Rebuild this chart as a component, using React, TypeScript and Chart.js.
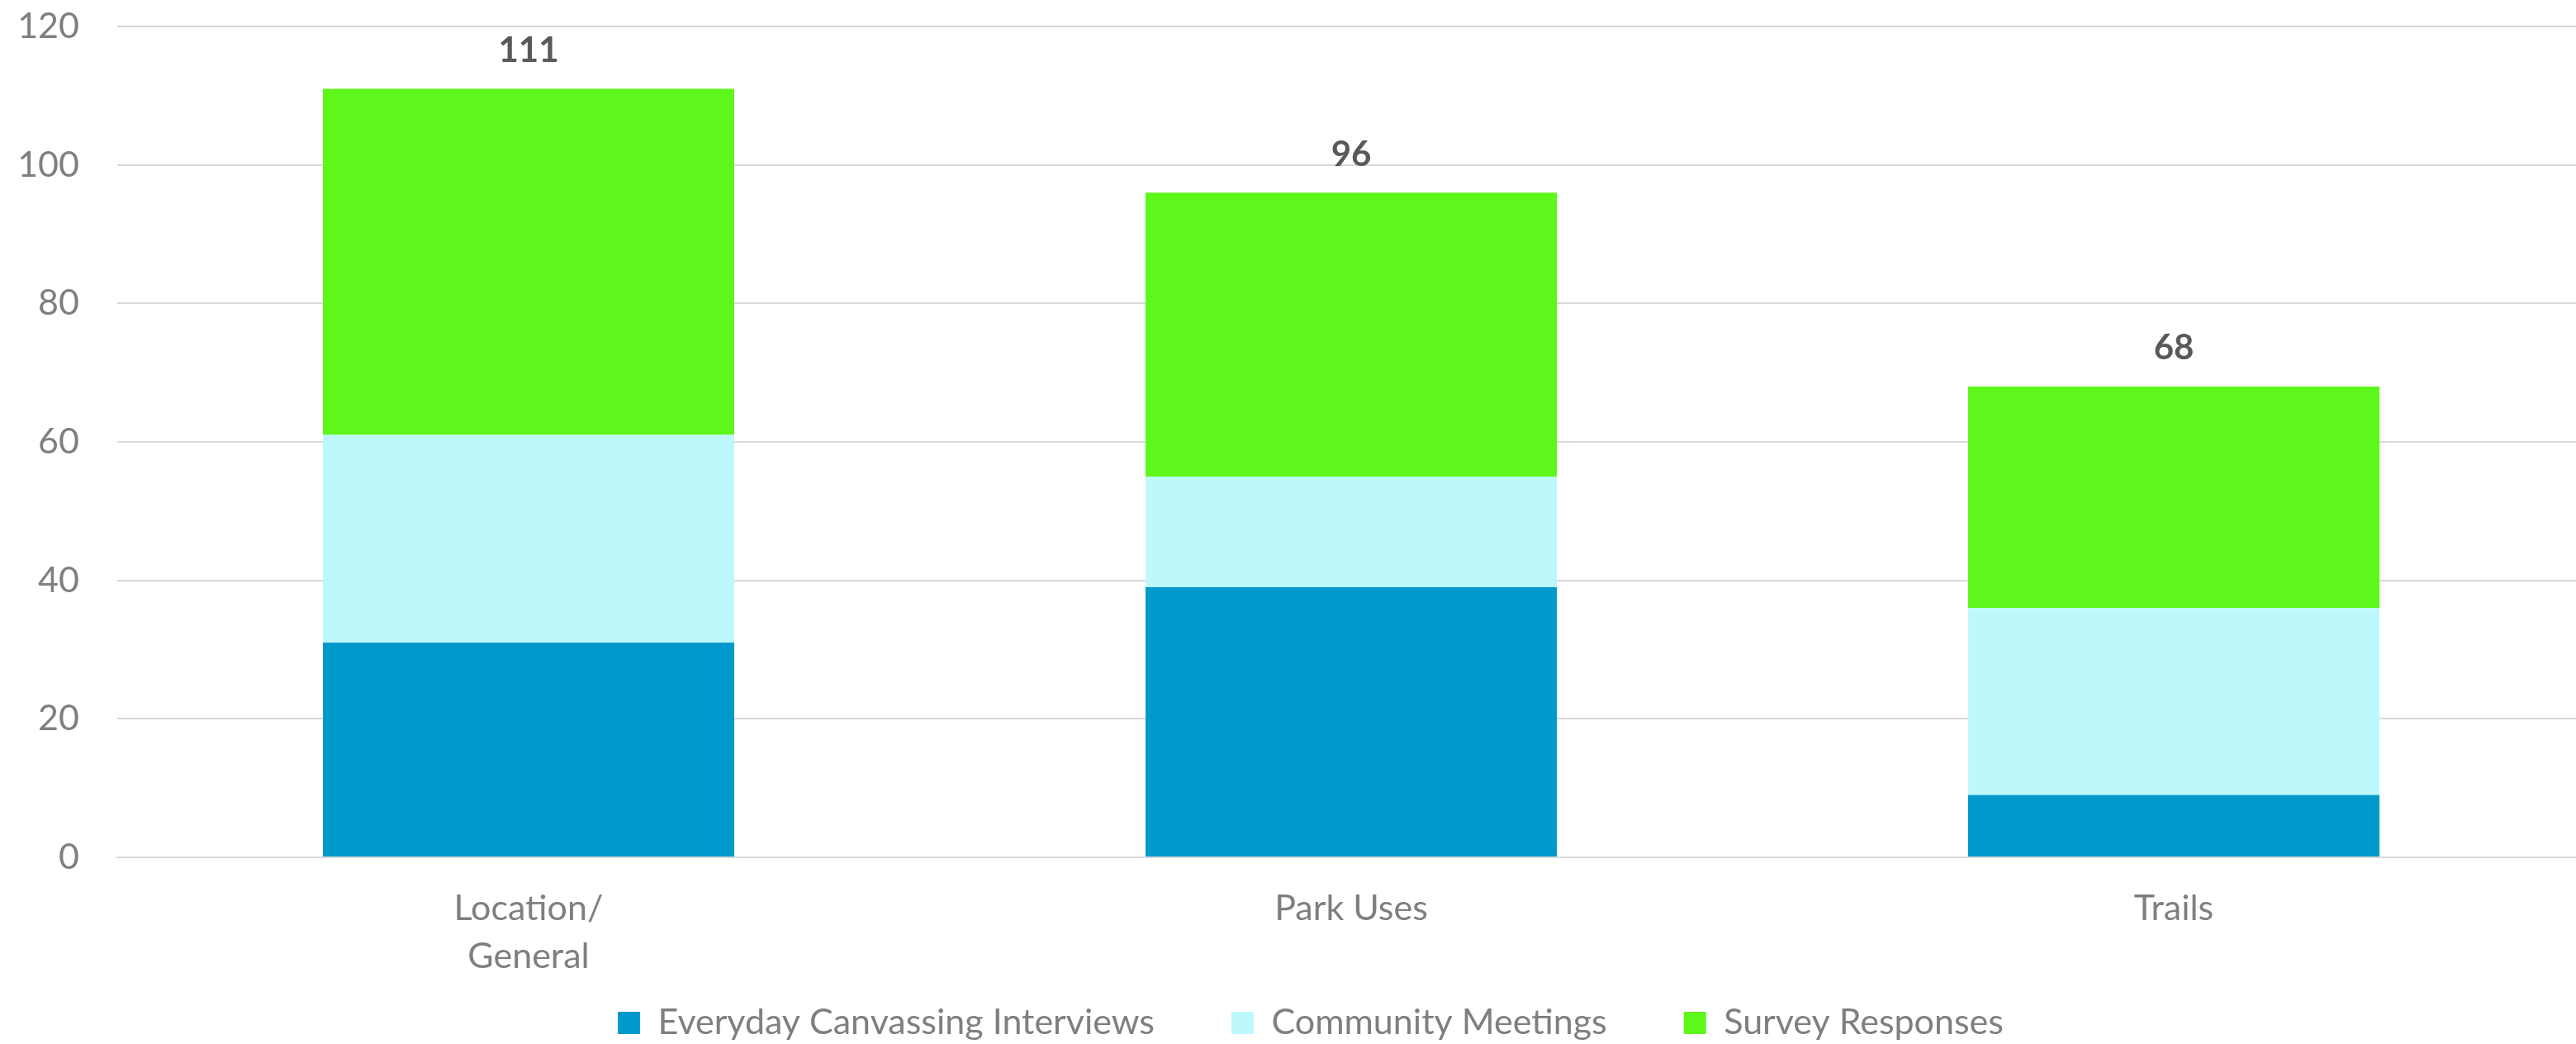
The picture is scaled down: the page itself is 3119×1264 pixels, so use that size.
import React, { useEffect, useRef } from "react";
import { Chart, registerables } from "chart.js";

Chart.register(...registerables);

const categories: (string | string[])[] = [["Location/", "General"], "Park Uses", "Trails"];
const seriesNames = ["Everyday Canvassing Interviews", "Community Meetings", "Survey Responses"];
const canvassing = [31, 39, 9];
const meetings = [30, 16, 27];
const survey = [50, 41, 32];
const seriesColors = ["#0099CB", "#BDF9FC", "#5EF71B"];
const yMax = 120;
const yStep = 20;

const FONT = "Lato, 'Noto Sans', sans-serif";
const GREY = "#7F7F7F";

const totalsPlugin = {
  id: "totals",
  afterDatasetsDraw(chart: any) {
    const ctx = chart.ctx;
    const lastMeta = chart.getDatasetMeta(chart.data.datasets.length - 1);
    ctx.save();
    ctx.font = `bold 42px ${FONT}`;
    ctx.fillStyle = "#595959";
    ctx.textAlign = "center";
    ctx.textBaseline = "middle";
    lastMeta.data.forEach((bar: any, i: number) => {
      const total = canvassing[i] + meetings[i] + survey[i];
      ctx.fillText(String(total), bar.x, bar.y - 46);
    });
    ctx.restore();
  },
};

const legendShiftPlugin = {
  id: "legendShift",
  afterLayout(chart: any) {
    if (chart.legend) {
      chart.legend.left += 22;
      chart.legend.right += 22;
    }
  },
};

export default function App() {
  const ref = useRef<HTMLCanvasElement>(null);
  useEffect(() => {
    if (!ref.current) return;
    const chart = new Chart(ref.current, {
      type: "bar",
      data: {
        labels: categories,
        datasets: [
          { label: seriesNames[0], data: canvassing, backgroundColor: seriesColors[0] },
          { label: seriesNames[1], data: meetings, backgroundColor: seriesColors[1] },
          { label: seriesNames[2], data: survey, backgroundColor: seriesColors[2] },
        ],
      },
      options: {
        animation: false,
        responsive: false,
        maintainAspectRatio: false,
        layout: { padding: { top: 32, left: 0, right: 0, bottom: 0 } },
        datasets: { bar: { categoryPercentage: 1, barPercentage: 0.5, borderWidth: 0 } },
        plugins: {
          tooltip: { enabled: false },
          legend: {
            position: "bottom",
            labels: {
              boxWidth: 27,
              boxHeight: 27,
              padding: 93,
              color: GREY,
              font: { family: FONT, size: 43 },
            },
          },
        },
        scales: {
          x: {
            stacked: true,
            grid: { display: false, drawTicks: false },
            border: { display: true, color: "#D9D9D9", width: 2 },
            ticks: {
              color: GREY,
              font: { family: FONT, size: 43, lineHeight: 1.35 },
              mirror: true,
              padding: -91,
              maxRotation: 0,
              autoSkip: false,
            },
            afterFit(scale: any) {
              scale.height = 86;
            },
          },
          y: {
            stacked: true,
            min: 0,
            max: yMax,
            border: { display: false },
            grid: {
              color: "#D9D9D9",
              lineWidth: 2,
              drawTicks: true,
              tickLength: 46,
              tickColor: "rgba(0,0,0,0)",
            },
            ticks: {
              stepSize: yStep,
              color: GREY,
              padding: 0,
              font: { family: FONT, size: 43 },
            },
            afterFit(scale: any) {
              scale.width = 142;
            },
          },
        },
      },
      plugins: [totalsPlugin, legendShiftPlugin],
    });
    return () => chart.destroy();
  }, []);

  return (
    <div style={{ position: "fixed", left: 0, top: 0, width: "100vw", height: "100vh", overflow: "hidden", background: "#fff" }}>
      <div style={{ width: 3130, height: 1270 }}>
        <canvas ref={ref} width={3130} height={1270} style={{ width: 3130, height: 1270, display: "block" }} />
      </div>
    </div>
  );
}
